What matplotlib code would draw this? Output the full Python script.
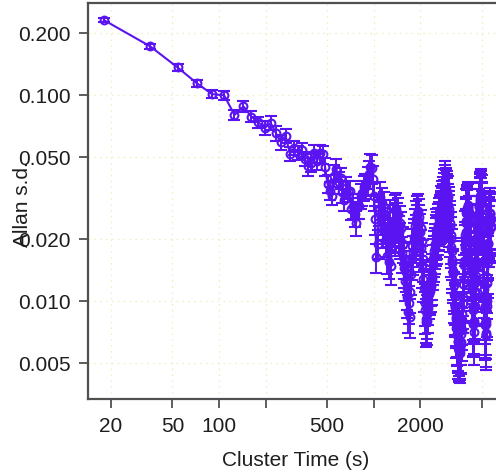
import numpy as np
import matplotlib
matplotlib.use("Agg")
import matplotlib.pyplot as plt
from matplotlib.ticker import NullLocator

# Allan s.d. for cluster sizes n = 1, 2, 3, ... (cluster time = 18 s * n)
tau0 = 18
adev = [
    0.231, 0.172, 0.136, 0.114, 0.101, 0.0996, 0.0800, 0.0880, 0.0785, 0.0736,
    0.0692, 0.0732, 0.0652, 0.0589, 0.0632, 0.0518, 0.0553, 0.0525, 0.0540, 0.0490,
    0.0450, 0.0470, 0.0520, 0.0480, 0.0520, 0.0515, 0.0448, 0.0370, 0.0343, 0.0324,
    0.0406, 0.0438, 0.0377, 0.0395, 0.0338, 0.0310, 0.0355, 0.0343, 0.0343, 0.0281,
    0.0290, 0.0265, 0.0240, 0.0290, 0.0290, 0.0324, 0.0335, 0.0356, 0.0362, 0.0362,
    0.0385, 0.0414, 0.0448, 0.0440, 0.0390, 0.0324, 0.0250, 0.0163, 0.0190, 0.0275,
    0.0320, 0.0255, 0.0300, 0.0220, 0.0285, 0.0240, 0.0200, 0.0165, 0.0230, 0.0155,
    0.0260, 0.0148, 0.0210, 0.0245, 0.0228, 0.0275, 0.0205, 0.0280, 0.0250, 0.0265,
    0.0215, 0.0240, 0.0200, 0.0225, 0.0170, 0.0190, 0.0145, 0.0160, 0.0125, 0.0138,
    0.0105, 0.0115, 0.0088, 0.0098, 0.0084, 0.0110, 0.0135, 0.0160, 0.0185, 0.0170,
    0.0205, 0.0195, 0.0230, 0.0215, 0.0250, 0.0240, 0.0265, 0.0272, 0.0240, 0.0255,
    0.0215, 0.0225, 0.0180, 0.0195, 0.0150, 0.0160, 0.0128, 0.0115, 0.0098, 0.0090,
    0.0082, 0.0079, 0.0086, 0.0080, 0.0092, 0.0100, 0.0108, 0.0115, 0.0112, 0.0125,
    0.0118, 0.0128, 0.0135, 0.0150, 0.0160, 0.0175, 0.0165, 0.0190, 0.0180, 0.0210,
    0.0200, 0.0222, 0.0215, 0.0205, 0.0235, 0.0225, 0.0250, 0.0240, 0.0260, 0.0255,
    0.0270, 0.0262, 0.0285, 0.0278, 0.0300, 0.0290, 0.0315, 0.0305, 0.0330, 0.0345,
    0.0375, 0.0360, 0.0340, 0.0350, 0.0325, 0.0335, 0.0310, 0.0320, 0.0292, 0.0280,
    0.0268, 0.0255, 0.0240, 0.0228, 0.0210, 0.0200, 0.0182, 0.0175, 0.0158, 0.0152,
    0.0140, 0.0136, 0.0124, 0.0120, 0.0108, 0.0106, 0.0095, 0.0093, 0.0084, 0.0082,
    0.0074, 0.0075, 0.0068, 0.0069, 0.0063, 0.0064, 0.0059, 0.0061, 0.0057, 0.0058,
    0.0056, 0.0059, 0.0058, 0.0063, 0.0062, 0.0069, 0.0072, 0.0081, 0.0086, 0.0098,
    0.0104, 0.0121, 0.0128, 0.0150, 0.0156, 0.0180, 0.0186, 0.0210, 0.0215, 0.0240,
    0.0245, 0.0268, 0.0266, 0.0282, 0.0276, 0.0292, 0.0284, 0.0286, 0.0268, 0.0270,
    0.0248, 0.0250, 0.0226, 0.0224, 0.0198, 0.0194, 0.0168, 0.0164, 0.0142, 0.0138,
    0.0116, 0.0113, 0.0094, 0.0090, 0.0078, 0.0077, 0.0071, 0.0078, 0.0080, 0.0092,
    0.0095, 0.0109, 0.0112, 0.0128, 0.0132, 0.0151, 0.0156, 0.0176, 0.0180, 0.0202,
    0.0205, 0.0225, 0.0226, 0.0247, 0.0247, 0.0268, 0.0266, 0.0288, 0.0285, 0.0306,
    0.0300, 0.0322, 0.0312, 0.0330, 0.0312, 0.0324, 0.0300, 0.0310, 0.0284, 0.0286,
    0.0258, 0.0256, 0.0225, 0.0220, 0.0190, 0.0182, 0.0154, 0.0145, 0.0121, 0.0114,
    0.0095, 0.0091, 0.0078, 0.0076, 0.0068, 0.0070, 0.0068, 0.0077, 0.0080, 0.0095,
    0.0100, 0.0122, 0.0130, 0.0155, 0.0161, 0.0188, 0.0192, 0.0218, 0.0218, 0.0240,
    0.0236, 0.0256, 0.0250, 0.0266, 0.0255, 0.0265, 0.0248, 0.0250, 0.0232, 0.0229,
]

# relative error bar half-width: first ten points one by one, then one value per block of ten
err_first = [0.02, 0.03, 0.035, 0.04, 0.045, 0.05, 0.055, 0.06, 0.06, 0.065]
err_per10 = [0.08, 0.10, 0.12, 0.14, 0.16, 0.18, 0.19, 0.20, 0.21,
             0.22, 0.23, 0.24, 0.25, 0.26, 0.27, 0.27, 0.28, 0.28, 0.29,
             0.29, 0.30, 0.30, 0.30, 0.31, 0.31, 0.31, 0.32, 0.32, 0.32,
             0.33, 0.33]

xticks = [20, 50, 100, 200, 500, 1000, 2000, 5000]
xtick_labels = ['20', '50', '100', '', '500', '', '2000', '']
yticks = [0.005, 0.010, 0.020, 0.050, 0.100, 0.200]
ytick_labels = ['0.005', '0.010', '0.020', '0.050', '0.100', '0.200']

adev = np.array(adev)
tau = tau0 * np.arange(1, len(adev) + 1)
rel = np.concatenate([err_first, np.repeat(err_per10, 10)])[:len(adev)]
err = adev * rel

plt.rcParams['font.family'] = ['Liberation Sans', 'DejaVu Sans']
col = '#5a14f2'
axcol = '#505050'
txtcol = '#1e1e1e'

fig = plt.figure(figsize=(4.96, 4.77), dpi=100)
ax = fig.add_axes([88/496, 77/477, 417/496, 396/477])

ax.errorbar(tau, adev, yerr=err, fmt='-o', color=col, mfc='none', ms=5.6, mew=1.5,
            lw=1.5, elinewidth=1.4, capsize=4.2, capthick=1.4)

ax.set_xscale('log')
ax.set_yscale('log')
ax.set_xlim(14.2, 7096)
ax.set_ylim(0.00334, 0.2797)
ax.set_xticks(xticks)
ax.set_xticklabels(xtick_labels)
ax.set_yticks(yticks)
ax.set_yticklabels(ytick_labels)
ax.xaxis.set_minor_locator(NullLocator())
ax.yaxis.set_minor_locator(NullLocator())

ax.grid(True, which='major', color='#efeebb', ls=(0, (1.2, 3.5)), lw=0.9)
ax.set_axisbelow(True)
for s in ax.spines.values():
    s.set_color(axcol)
    s.set_linewidth(1.6)
ax.tick_params(direction='out', length=6.5, width=1.3, color=axcol,
               labelsize=15, pad=6, labelcolor=txtcol)

fig.text(22/496, 1 - 204/477, 'Allan s.d.', rotation=90, ha='center', va='center',
         fontsize=15, color=txtcol)
fig.text(296/496, 1 - 461/477, 'Cluster Time (s)', ha='center', va='center',
         fontsize=15, color=txtcol)

fig.savefig('out.png', dpi=100)
plt.close()
